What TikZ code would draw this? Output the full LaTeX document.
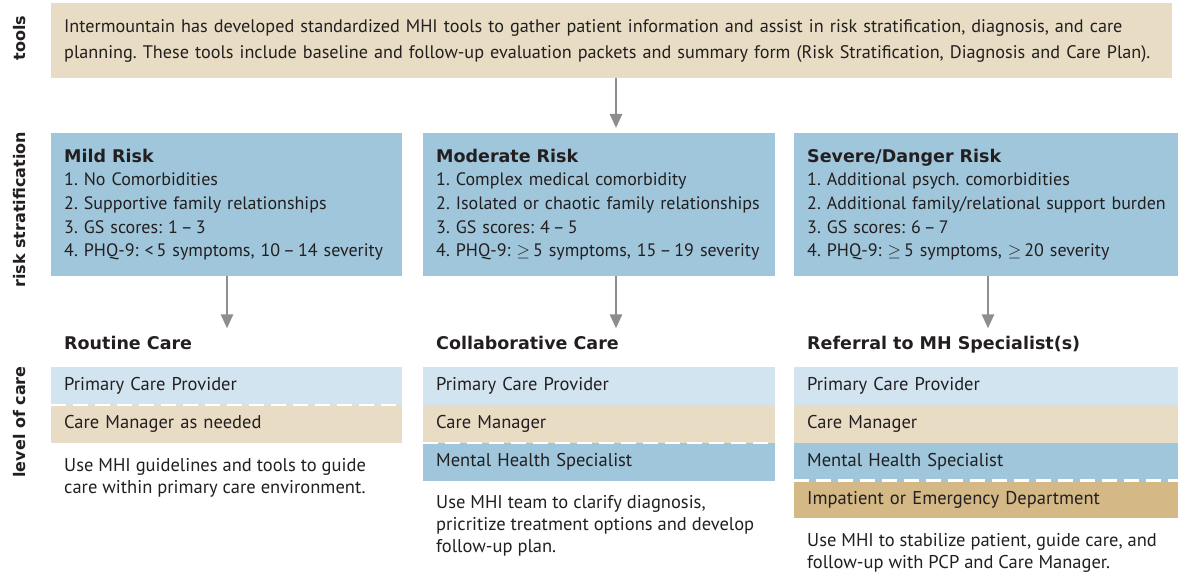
\documentclass[tikz,border=0pt]{standalone}
\usepackage{fontspec}
\setmainfont{PT Sans}
\newfontfamily\headfont{DejaVu Sans}
\frenchspacing
\usetikzlibrary{arrows.meta, positioning}

\definecolor{ink}{HTML}{231F20}
\definecolor{sand}{HTML}{E8DCC4}
\definecolor{riskblue}{HTML}{9FC6DB}
\definecolor{paleblue}{HTML}{D2E4F0}
\definecolor{tan}{HTML}{D4B987}
\definecolor{arrowgray}{HTML}{8E8E90}

\newcommand{\riskhead}[1]{{\headfont\bfseries\fontsize{17.5}{23.5}\selectfont #1}}

\begin{document}
\begin{tikzpicture}[x=1pt, y=-1pt, >={Triangle[width=12pt,length=14pt]},
  font=\fontsize{18.5}{23.5}\selectfont, text=ink,
  sidelabel/.style={rotate=90, inner sep=0pt, font=\headfont\bfseries\fontsize{16}{18}\selectfont},
  panel/.style={anchor=north west, inner xsep=13pt, inner ysep=0pt, align=left},
  risk/.style={panel, fill=riskblue, minimum height=143pt, font=\fontsize{18}{23.7}\selectfont},
  band/.style={panel, minimum height=37.5pt},
  head/.style={anchor=base west, inner sep=0pt, font=\headfont\bfseries\fontsize{17.5}{20}\selectfont},
  note/.style={anchor=north west, inner sep=0pt, align=left, font=\fontsize{18.5}{22}\selectfont},
  flow/.style={->, draw=arrowgray, line width=2.5pt},
  seam/.style={draw=white, line width=2.5pt, dash pattern=on 15pt off 7pt}]
  \useasboundingbox (0,0) rectangle (1178,572);

  % --- Row labels
  \node[sidelabel] (labtools) at (20,38)  {tools};
  \node[sidelabel] (labrisk)  at (20,210) {risk stratification};
  \node[sidelabel] (labcare)  at (20,422) {level of care};

  % --- Tools
  \node[panel, fill=sand, minimum height=75pt, text width=1095pt,
        font=\fontsize{18.2}{26}\selectfont] (tools) at (51,3)
    {\mbox{Intermountain has developed standardized MHI tools to gather patient information and assist in risk stratification, diagnosis, and care}\\
     \mbox{planning. These tools include baseline and follow-up evaluation packets and summary form (Risk Stratification, Diagnosis and Care Plan).}};

  % --- Risk stratification
  \node[risk, text width=325pt] (risk1) at (51,133)
    {\riskhead{Mild Risk}\\
     1. No Comorbidities\\
     2. Supportive family relationships\\
     3. GS scores: 1\,--\,3\\
     \mbox{4. PHQ-9: <\,5 symptoms, 10\,--\,14 severity}};
  \node[risk, text width=326pt] (risk2) at (423,133)
    {\riskhead{Moderate Risk}\\
     1. Complex medical comorbidity\\
     \mbox{2. Isolated or chaotic family relationships}\\
     3. GS scores: 4\,--\,5\\
     \mbox{4. PHQ-9: $\geq$\,5 symptoms, 15\,--\,19 severity}};
  \node[risk, text width=358pt] (risk3) at (794,133)
    {\riskhead{Severe/Danger Risk}\\
     1. Additional psych. comorbidities\\
     \mbox{2. Additional family/relational support burden}\\
     3. GS scores: 6\,--\,7\\
     \mbox{4. PHQ-9: $\geq$\,5 symptoms, $\geq$\,20 severity}};

  % --- Level of care headings
  \node[head] (care1) at (64,349)  {Routine Care};
  \node[head] (care2) at (436,349) {Collaborative Care};
  \node[head] (care3) at (807,349) {Referral to MH Specialist(s)};

  % --- Care team bands
  \node[band, fill=paleblue, text width=325pt] (pcp1) at (51,367) {Primary Care Provider};
  \node[band, fill=sand, text width=325pt] (cm1) at (pcp1.south west) {Care Manager as needed};

  \node[band, fill=paleblue, text width=326pt] (pcp2) at (423,367) {Primary Care Provider};
  \node[band, fill=sand, text width=326pt] (cm2) at (pcp2.south west) {Care Manager};
  \node[band, fill=riskblue, text width=326pt] (mhs2) at (cm2.south west) {Mental Health Specialist};

  \node[band, fill=paleblue, text width=358pt] (pcp3) at (794,367) {Primary Care Provider};
  \node[band, fill=sand, text width=358pt] (cm3) at (pcp3.south west) {Care Manager};
  \node[band, fill=riskblue, text width=358pt] (mhs3) at (cm3.south west) {Mental Health Specialist};
  \node[band, fill=tan, text width=358pt] (ied3) at (mhs3.south west) {Impatient or Emergency Department};

  % --- Dashed seams: where the team stops by default
  \draw[seam] (pcp1.south west) -- (pcp1.south east);
  \draw[seam] (cm2.south west) -- (cm2.south east);
  \draw[seam] (mhs3.south west) -- (mhs3.south east);

  % --- Notes under each column
  \node[note] (note1) at (64,458)
    {Use MHI guidelines and tools to guide\\care within primary care environment.};
  \node[note] (note2) at (436,495)
    {Use MHI team to clarify diagnosis,\\pricritize treatment options and develop\\follow-up plan.};
  \node[note] (note3) at (807,533)
    {Use MHI to stabilize patient, guide care, and\\follow-up with PCP and Care Manager.};

  % --- Arrows
  \coordinate (a1) at (227,0);
  \coordinate (a2) at (616,0);
  \coordinate (a3) at (988,0);
  \draw[flow] (tools.south -| a2) -- ([yshift=5pt]risk2.north -| a2);
  \draw[flow] (risk1.south -| a1) -- ([yshift=-52pt]risk1.south -| a1);
  \draw[flow] (risk2.south -| a2) -- ([yshift=-52pt]risk2.south -| a2);
  \draw[flow] (risk3.south -| a3) -- ([yshift=-52pt]risk3.south -| a3);
\end{tikzpicture}
\end{document}
